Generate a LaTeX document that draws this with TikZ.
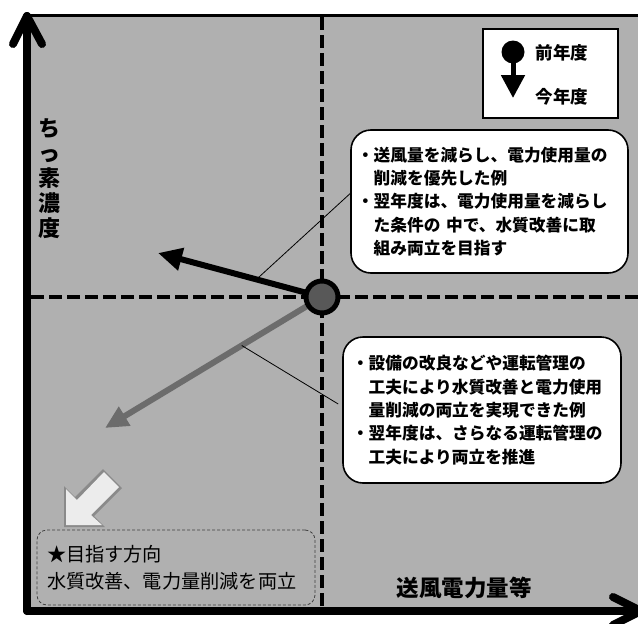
\documentclass[tikz,border=0pt]{standalone}
\usepackage{fontspec}
\newfontfamily\jp{Noto Sans CJK JP}
\usetikzlibrary{arrows.meta,calc}
\definecolor{panel}{RGB}{176,176,176}
\definecolor{dotgray}{RGB}{88,88,88}
\definecolor{arrgray}{RGB}{108,108,108}
\definecolor{blockw}{RGB}{236,236,236}
\definecolor{shadowg}{RGB}{138,138,138}
\tikzset{
  note/.style={draw, line width=1.6pt, fill=white, rounded corners=20pt, align=left,
    font=\jp\bfseries\fontsize{16.7}{23.3}\selectfont},
  axisline/.style={line width=8pt, line cap=round, line join=round},
  quadline/.style={line width=4.5pt, dash pattern=on 13pt off 5pt},
  callout/.style={line width=0.8pt},
}
\begin{document}
\begin{tikzpicture}[x=1pt,y=-1pt]
    \useasboundingbox (0,0) rectangle (638,624);
    \clip (0,0) rectangle (638,624);

    % panel and axes
    \fill[panel] (27,15) rectangle (638,611);
    \draw[line width=3pt] (27,15) -- (638,15);
    \coordinate (orig) at (27,611);
    \coordinate (ytop) at (27,16);
    \coordinate (xend) at (641,611);
    \draw[axisline] (orig) -- (ytop);
    \draw[axisline] ($(ytop)+(-14,28)$) -- (ytop) -- ($(ytop)+(15,28)$);
    \draw[axisline] (orig) -- (xend);
    \draw[axisline] ($(xend)+(-28,-14)$) -- (xend) -- ($(xend)+(-28,14)$);

    % quadrant lines
    \coordinate (ctr) at (322,297);
    \draw[quadline] (322,17) -- (322,607);
    \draw[quadline] (31,297) -- (638,297);

    % axis labels
    \node[font=\jp\bfseries\fontsize{22}{25}\selectfont, align=center] (ylab) at (49,179) {ち\\っ\\素\\濃\\度};
    \node[font=\jp\bfseries\fontsize{22.5}{26}\selectfont] (xlab) at (464,588) {送風電力量等};

    % legend
    \node[draw, line width=1.6pt, fill=white, minimum width=135pt, minimum height=89pt] (legend) at (550.5,73.5) {};
    \node[circle, fill=black, minimum size=23pt, inner sep=0pt] (ldot) at (513,52) {};
    \coordinate (ltip) at (513,98);
    \draw[line width=5pt, -{Triangle[length=23pt,width=23pt]}] (ldot.center) -- (ltip);
    \node[font=\jp\bfseries\fontsize{17.5}{20}\selectfont] (lprev) at (562,53) {前年度};
    \node[font=\jp\bfseries\fontsize{17.5}{20}\selectfont] (lcur) at (562,97) {今年度};

    % movement arrows
    \coordinate (blk) at (158,253);
    \coordinate (gry) at (105,428);
    \draw[line width=6pt, -{Triangle[length=24pt,width=22pt]}] (ctr) -- (blk);
    \draw[arrgray, line width=6pt, -{Triangle[length=23pt,width=21pt]}] (ctr) -- (gry);
    \node[circle, draw=black, line width=5pt, fill=dotgray, minimum size=32pt, inner sep=0pt] (prev) at (ctr) {};

    % notes
    \node[note, text width=265pt, inner xsep=6pt, minimum height=143pt] (upbox) at (489.5,201.5)
      {・送風量を減らし、電力使用量の\\\hspace*{1em}削減を優先した例\\・翌年度は、電力使用量を減らし\\\hspace*{1em}た条件の 中で、水質改善に取\\\hspace*{1em}組み両立を目指す};
    \node[note, text width=260pt, inner xsep=9pt, minimum height=146pt] (lowbox) at (482,410)
      {・設備の改良などや運転管理の\\\hspace*{1em}工夫により水質改善と電力使用\\\hspace*{1em}量削減の両立を実現できた例\\・翌年度は、さらなる運転管理の\\\hspace*{1em}工夫により両立を推進};
    \coordinate (upfoot) at ($(ctr)!0.4!(blk)$);
    \coordinate (lowfoot) at ($(ctr)!0.37!(gry)$);
    \draw[callout] (upfoot) -- ($(upbox.west)+(0,-8)$);
    \draw[callout] (lowfoot) -- ($(lowbox.west)+(-4,-6)$);

    % target direction
    \fill[shadowg] (64,527) -- (64,486) -- (75,497) -- (103,469) -- (122,488) -- (94,516) -- (105,527) -- cycle;
    \fill[blockw] (66,525) -- (66,489) -- (77,500) -- (104,472) -- (119,487) -- (91,515) -- (102,525) -- cycle;
    \node[draw=black!75, line width=0.8pt, dash pattern=on 3pt off 2pt, rounded corners=10pt,
      minimum width=278pt, minimum height=75pt, text width=258pt, inner xsep=10pt, align=left,
      font=\jp\fontsize{19.2}{27}\selectfont] (goal) at (176,567.5)
      {★目指す方向\\水質改善、電力量削減を両立};
\end{tikzpicture}
\end{document}
